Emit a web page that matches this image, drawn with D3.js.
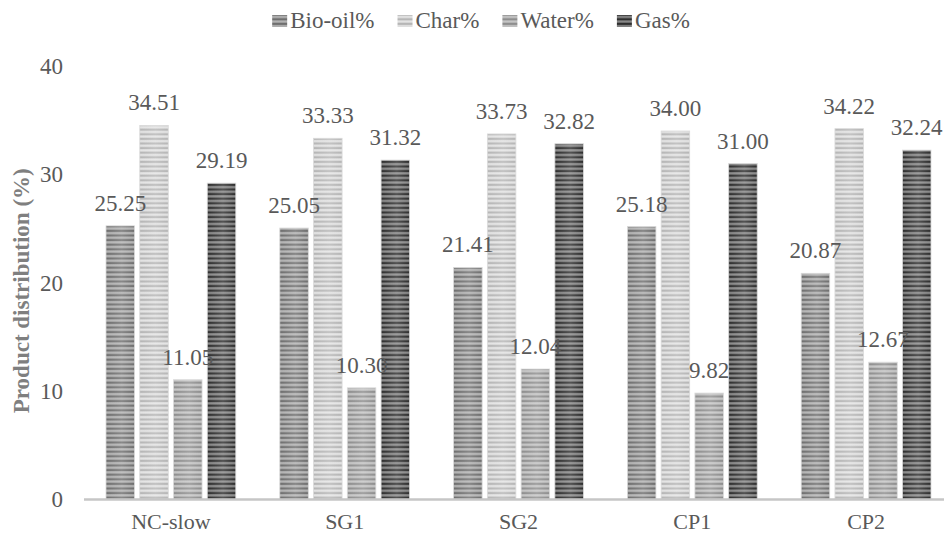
<!DOCTYPE html>
<html>
<head>
<meta charset="utf-8">
<script src="https://cdn.jsdelivr.net/npm/d3@7"></script>
<style>
  html, body { margin: 0; padding: 0; background: #fff; }
  svg { display: block; }
</style>
</head>
<body>
<svg id="chart" width="944" height="536"></svg>
<script>
// Product distribution per sample
const categories = ["NC-slow", "SG1", "SG2", "CP1", "CP2"];
const seriesNames = ["Bio-oil%", "Char%", "Water%", "Gas%"];
const bioOil = [25.25, 25.05, 21.41, 25.18, 20.87];
const charYield = [34.51, 33.33, 33.73, 34.00, 34.22];
const water = [11.05, 10.30, 12.04, 9.82, 12.67];
const gas = [29.19, 31.32, 32.82, 31.00, 32.24];
const yTicks = [0, 10, 20, 30, 40];
const yTitle = "Product distribution (%)";

const seriesValues = [bioOil, charYield, water, gas];

const FONT = "'Liberation Serif', 'Times New Roman', serif";
const TEXT_COLOR = "#595959";

// Stripe tones (dark line, light line) per series
const stripeTones = [
  ["#6f6f6f", "#b4b4b4"],
  ["#b6b6b6", "#e4e4e4"],
  ["#8e8e8e", "#c6c6c6"],
  ["#2e2e2e", "#8a8a8a"]
];

const svg = d3.select("#chart");
const defs = svg.append("defs");

const W = 944, H = 536;
const plot = { left: 84, right: 953, top: 66, bottom: 499.5 };

const x0 = d3.scaleBand().domain(categories).range([plot.left, plot.right]).padding(0);
const x1 = d3.scaleBand().domain(seriesNames).range([22, x0.bandwidth() - 22])
  .paddingInner(0.155).paddingOuter(0);
const y = d3.scaleLinear().domain([0, 40]).range([plot.bottom, plot.top]);

// Striped fills
seriesNames.forEach((s, i) => {
  const g = defs.append("linearGradient")
    .attr("id", "stripeGrad" + i)
    .attr("x1", 0).attr("y1", 0).attr("x2", 0).attr("y2", 1);
  const [dk, lt] = stripeTones[i];
  [[0, dk], [0.3, dk], [0.55, lt], [0.85, lt], [1, dk]].forEach(([o, c]) =>
    g.append("stop").attr("offset", o).attr("stop-color", c));
  const p = defs.append("pattern")
    .attr("id", "stripe" + i)
    .attr("patternUnits", "userSpaceOnUse")
    .attr("width", 10).attr("height", 4.6);
  p.append("rect").attr("width", 10).attr("height", 4.6)
    .attr("fill", `url(#stripeGrad${i})`);
});

// Soft horizontal sheen across each bar
const shine = defs.append("linearGradient").attr("id", "shine")
  .attr("x1", 0).attr("y1", 0).attr("x2", 1).attr("y2", 0);
[[0, 0], [0.55, 0.18], [1, 0]].forEach(([o, a]) =>
  shine.append("stop").attr("offset", o).attr("stop-color", "#fff").attr("stop-opacity", a));

// Bars
const rows = categories.map((c, ci) => ({
  cat: c,
  items: seriesNames.map((s, si) => ({ s, si, v: seriesValues[si][ci] }))
}));

const groups = svg.append("g").selectAll("g.grp")
  .data(rows).join("g")
  .attr("class", "grp")
  .attr("transform", d => `translate(${x0(d.cat)},0)`);

groups.selectAll("rect.bar")
  .data(d => d.items).join("rect")
  .attr("class", "bar")
  .attr("x", d => x1(d.s))
  .attr("y", d => y(d.v))
  .attr("width", x1.bandwidth())
  .attr("height", d => y(0) - y(d.v))
  .attr("fill", d => `url(#stripe${d.si})`)
  .attr("stroke", "#dadada")
  .attr("stroke-width", 0.8);

groups.selectAll("rect.sheen")
  .data(d => d.items).join("rect")
  .attr("class", "sheen")
  .attr("x", d => x1(d.s))
  .attr("y", d => y(d.v))
  .attr("width", x1.bandwidth())
  .attr("height", d => y(0) - y(d.v))
  .attr("fill", "url(#shine)");

// X axis baseline
svg.append("line")
  .attr("x1", plot.left).attr("x2", W)
  .attr("y1", plot.bottom).attr("y2", plot.bottom)
  .attr("stroke", "#c6c6c6").attr("stroke-width", 2.6);

// Shared text styling
function styleText(sel, size) {
  return sel.attr("font-family", FONT)
    .attr("font-size", size)
    .attr("fill", TEXT_COLOR);
}

// Data labels
const fmt = d3.format(".2f");
groups.selectAll("text.val")
  .data(d => d.items).join("text")
  .attr("class", "val")
  .attr("x", d => x1(d.s) + x1.bandwidth() / 2)
  .attr("y", d => y(d.v) - 15)
  .attr("text-anchor", "middle")
  .call(styleText, 23)
  .text(d => fmt(d.v));

// Category labels
svg.append("g").selectAll("text")
  .data(categories).join("text")
  .attr("x", d => x0(d) + x0.bandwidth() / 2)
  .attr("y", 529)
  .attr("text-anchor", "middle")
  .call(styleText, 22)
  .text(d => d);

// Y tick labels
svg.append("g").selectAll("text")
  .data(yTicks).join("text")
  .attr("x", 63)
  .attr("y", d => y(d))
  .attr("dy", "0.34em")
  .attr("text-anchor", "end")
  .call(styleText, 23)
  .text(d => d);

// Y axis title
svg.append("text")
  .attr("transform", `translate(29,${(plot.top + plot.bottom) / 2 + 8}) rotate(-90)`)
  .attr("text-anchor", "middle")
  .call(styleText, 23)
  .attr("font-weight", "bold")
  .attr("fill", "#7f7f7f")
  .text(yTitle);

// Legend
const legend = svg.append("g");
let lx = 0;
seriesNames.forEach((s, i) => {
  const item = legend.append("g").attr("transform", `translate(${lx},0)`);
  item.append("rect").attr("x", 0).attr("y", 15).attr("width", 15).attr("height", 12)
    .attr("fill", `url(#stripe${i})`);
  const t = item.append("text").attr("x", 18).attr("y", 28)
    .call(styleText, 23).text(s);
  lx += 18 + t.node().getComputedTextLength() + 23;
});
const legendWidth = lx - 23;
legend.attr("transform", `translate(${481 - legendWidth / 2},0)`);
</script>
</body>
</html>
